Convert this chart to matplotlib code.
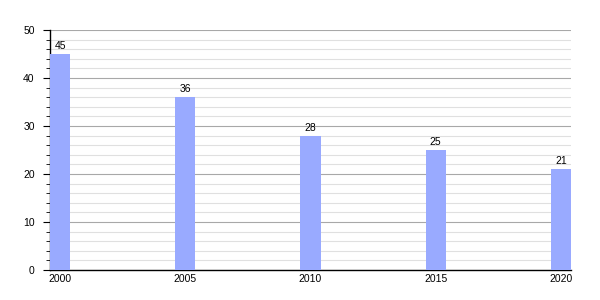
import matplotlib
matplotlib.use("Agg")
import matplotlib.pyplot as plt
from matplotlib.ticker import MultipleLocator

years = [2000, 2005, 2010, 2015, 2020]
values = [45, 36, 28, 25, 21]

plt.rcParams['font.family'] = ['Liberation Sans', 'DejaVu Sans']

fig = plt.figure(figsize=(6, 3), dpi=100)
ax = fig.add_axes([50/600, 30/300, 521/600, 240/300])

ax.bar(years, values, width=0.8, color='#99aaff', zorder=3)
for x, v in zip(years, values):
    ax.text(x, v + 0.6, str(v), ha='center', va='bottom', fontsize=7.5, zorder=4)

ax.set_xlim(1999.6, 2020.4)
ax.set_ylim(0, 50)
ax.set_xticks(years)
ax.set_xticklabels([str(y) for y in years])
ax.yaxis.set_major_locator(MultipleLocator(10))
ax.yaxis.set_minor_locator(MultipleLocator(2))
ax.grid(axis='y', which='major', color='#a8a8a8', linewidth=0.8, zorder=0)
ax.grid(axis='y', which='minor', color='#e0e0e0', linewidth=0.8, zorder=0)
for s in ['top', 'right']:
    ax.spines[s].set_visible(False)
ax.spines['left'].set_linewidth(1)
ax.spines['bottom'].set_linewidth(1)
ax.tick_params(axis='y', which='major', length=5, labelsize=7.5, pad=6)
ax.tick_params(axis='y', which='minor', length=3)
ax.tick_params(axis='x', length=0, labelsize=7.5, pad=3)

fig.savefig('out.png', dpi=100)
